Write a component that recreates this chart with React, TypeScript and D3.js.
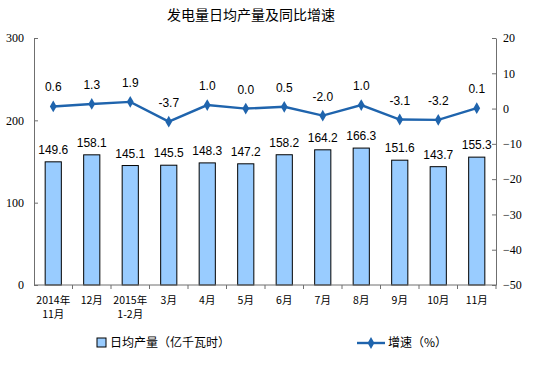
import React, { useEffect, useRef } from 'react';
import * as d3 from 'd3';

const categories = ['2014年\n11月', '12月', '2015年\n1-2月', '3月', '4月', '5月', '6月', '7月', '8月', '9月', '10月', '11月'];
const output = [149.6, 158.1, 145.1, 145.5, 148.3, 147.2, 158.2, 164.2, 166.3, 151.6, 143.7, 155.3];
const growth = [0.6, 1.3, 1.9, -3.7, 1.0, 0.0, 0.5, -2.0, 1.0, -3.1, -3.2, 0.1];
const leftTicks = [0, 100, 200, 300];
const rightTicks = [20, 10, 0, -10, -20, -30, -40, -50];

const App = () => {
  const svgRef = useRef<SVGSVGElement>(null);

  useEffect(() => {
    const svg = d3.select(svgRef.current);
    svg.selectAll('*').remove();

    const left = 34, right = 496, top = 38, bottom = 285;
    const axisColor = '#6f6f6f';
    const cjk = '"Noto Sans CJK SC", sans-serif';
    const serif = '"Liberation Serif", serif';
    const sans = '"Liberation Sans", Arial, sans-serif';

    const x = d3.scaleBand().domain(categories).range([left, right]).paddingInner(0.58).paddingOuter(0.29);
    const xc = (d: string) => (x(d) as number) + x.bandwidth() / 2;
    const yL = d3.scaleLinear().domain([0, 300]).range([bottom, top]);
    const yR = d3.scaleLinear().domain([-50, 20]).range([bottom, top]);

    // title
    svg.append('text')
      .attr('x', 251).attr('y', 20)
      .attr('text-anchor', 'middle')
      .style('font-family', cjk).style('font-size', '14px').attr('fill', '#000')
      .text('发电量日均产量及同比增速');

    // bars
    svg.selectAll('.bar').data(output).enter().append('rect')
      .attr('x', (d, i) => x(categories[i]) as number)
      .attr('y', d => yL(d))
      .attr('width', x.bandwidth())
      .attr('height', d => bottom - yL(d))
      .attr('fill', '#99ccff').attr('stroke', '#000').attr('stroke-width', 1);

    svg.selectAll('.barlab').data(output).enter().append('text')
      .attr('x', (d, i) => xc(categories[i]))
      .attr('y', d => yL(d) - 8)
      .attr('text-anchor', 'middle')
      .style('font-family', sans).style('font-size', '12px').attr('fill', '#000')
      .text(d => d.toFixed(1));

    // axes
    const gL = svg.append('g').attr('transform', `translate(${left},0)`)
      .call(d3.axisLeft(yL).tickValues(leftTicks).tickSizeInner(-4).tickSizeOuter(0).tickPadding(10));
    const gR = svg.append('g').attr('transform', `translate(${right},0)`)
      .call(d3.axisRight(yR).tickValues(rightTicks).tickSizeInner(-4).tickSizeOuter(0).tickPadding(10));
    [gL, gR].forEach(g => {
      g.select('.domain').attr('stroke', axisColor);
      g.selectAll('line').attr('stroke', axisColor);
      g.selectAll('text').style('font-family', serif).style('font-size', '12px').attr('fill', '#000');
    });
    gR.selectAll('text').attr('x', 7);

    // x axis
    svg.append('line').attr('x1', left).attr('x2', right).attr('y1', bottom).attr('y2', bottom).attr('stroke', axisColor);
    const bounds = categories.map(c => x(c) as number - x.step() * x.paddingInner() / 2);
    svg.selectAll('.xtick').data(bounds.slice(1).concat([right])).enter().append('line')
      .attr('x1', d => d).attr('x2', d => d).attr('y1', bottom).attr('y2', bottom + 4).attr('stroke', axisColor);

    categories.forEach(c => {
      const lines = c.split('\n');
      const t = svg.append('text')
        .attr('text-anchor', 'middle')
        .style('font-family', cjk).style('font-size', '10.5px').attr('fill', '#000');
      lines.forEach((l, j) => {
        t.append('tspan').attr('x', xc(c)).attr('y', 304 + j * 14).text(l);
      });
    });

    // line
    const line = d3.line<number>().x((d, i) => xc(categories[i])).y(d => yR(d));
    svg.append('path').datum(growth).attr('d', line)
      .attr('fill', 'none').attr('stroke', '#1f64ad').attr('stroke-width', 2.4);
    const diamond = d3.symbol().type(d3.symbolDiamond).size(40);
    svg.selectAll('.pt').data(growth).enter().append('path')
      .attr('d', diamond)
      .attr('transform', (d, i) => `translate(${xc(categories[i])},${yR(d)})`)
      .attr('fill', '#1f64ad');
    svg.selectAll('.ptlab').data(growth).enter().append('text')
      .attr('x', (d, i) => xc(categories[i]))
      .attr('y', d => yR(d) - 15)
      .attr('text-anchor', 'middle')
      .style('font-family', sans).style('font-size', '12px').attr('fill', '#000')
      .text(d => d.toFixed(1));

    // legend
    svg.append('rect').attr('x', 97).attr('y', 338).attr('width', 9).attr('height', 9)
      .attr('fill', '#99ccff').attr('stroke', '#000');
    svg.append('text').attr('x', 110).attr('y', 347)
      .style('font-family', cjk).style('font-size', '12px').attr('fill', '#000')
      .text('日均产量（亿千瓦时）');
    svg.append('line').attr('x1', 357).attr('x2', 385).attr('y1', 343).attr('y2', 343)
      .attr('stroke', '#1f64ad').attr('stroke-width', 2.4);
    svg.append('path').attr('d', diamond).attr('transform', 'translate(371,343)').attr('fill', '#1f64ad');
    svg.append('text').attr('x', 388).attr('y', 347)
      .style('font-family', cjk).style('font-size', '12px').attr('fill', '#000')
      .text('增速（%）');
  }, []);

  return (
    <svg ref={svgRef} width={544} height={373}
      style={{ position: 'absolute', left: 0, top: 0, background: '#fff' }} />
  );
};

export default App;
